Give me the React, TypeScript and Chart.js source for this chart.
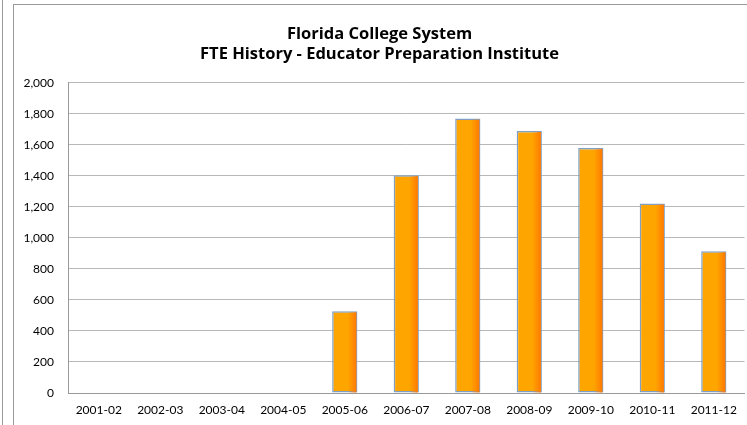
import React, { useEffect, useRef } from "react";
import { Chart, registerables } from "chart.js";

Chart.register(...registerables);

const categories = ["2001-02", "2002-03", "2003-04", "2004-05", "2005-06", "2006-07", "2007-08", "2008-09", "2009-10", "2010-11", "2011-12"];
const fteValues: (number | null)[] = [null, null, null, null, 527, 1405, 1770, 1690, 1581, 1222, 914];
const titleLines = ["Florida College System", "FTE History - Educator Preparation Institute"];
const yMin = 0;
const yMax = 2000;
const yStep = 200;

const FONT = "Lato, 'Open Sans', sans-serif";
const TITLE_FONT = "'Open Sans', Lato, sans-serif";

const shadePlugin = {
  id: "barShade",
  afterDatasetsDraw(chart: any) {
    const ctx = chart.ctx;
    const meta = chart.getDatasetMeta(0);
    meta.data.forEach((bar: any) => {
      const p = bar.getProps(["x", "y", "base", "width"], true);
      if (p.y == null || isNaN(p.y) || Math.abs(p.base - p.y) < 1) return;
      const l = p.x - p.width / 2 + 1;
      const r = p.x + p.width / 2 - 1;
      const g = ctx.createLinearGradient(l, 0, r, 0);
      g.addColorStop(0, "rgba(255,128,0,0)");
      g.addColorStop(0.62, "rgba(255,128,0,0)");
      g.addColorStop(1, "rgba(255,120,0,1)");
      ctx.save();
      ctx.fillStyle = g;
      ctx.fillRect(l, p.y + 1, r - l, p.base - p.y - 1);
      ctx.restore();
    });
  },
};

export default function App() {
  const ref = useRef<HTMLCanvasElement>(null);
  useEffect(() => {
    if (!ref.current) return;
    const chart = new Chart(ref.current, {
      type: "bar",
      data: {
        labels: categories,
        datasets: [
          {
            data: fteValues,
            backgroundColor: (c: any) => {
              const el = c.element;
              const ch = c.chart;
              if (!el || !ch.chartArea) return "#FFA500";
              const p = el.getProps(["y", "base"], true);
              if (p.y == null || isNaN(p.y) || p.base - p.y < 1) return "#FFA500";
              const g = ch.ctx.createLinearGradient(0, p.y, 0, p.base);
              g.addColorStop(0, "#FF8200");
              g.addColorStop(0.45, "#FF9E00");
              g.addColorStop(1, "#FFC600");
              return g;
            },
            borderColor: "#7FA0C4",
            borderWidth: 1.5,
            borderSkipped: false,
            categoryPercentage: 1,
            barPercentage: 0.41,
          },
        ],
      },
      options: {
        animation: false,
        responsive: false,
        maintainAspectRatio: false,
        layout: { padding: { left: 0, right: 2, top: 0, bottom: 0 } },
        plugins: {
          legend: { display: false },
          tooltip: { enabled: false },
          title: {
            display: true,
            text: titleLines,
            color: "#000",
            font: { family: TITLE_FONT, size: 16.5, weight: "bold", lineHeight: 1.21 },
            padding: { top: 19, bottom: 19 },
          },
        },
        scales: {
          x: {
            grid: { display: false, drawTicks: false },
            border: { display: true, color: "#9a9a9a", width: 1 },
            ticks: { color: "#000", font: { family: FONT, size: 12 }, padding: 10, maxRotation: 0, autoSkip: false },
            afterFit: (s: any) => { s.height = 32; },
          },
          y: {
            min: yMin,
            max: yMax,
            grid: { color: "#b8b8b8", lineWidth: 1, drawTicks: false },
            border: { display: true, color: "#9a9a9a", width: 1 },
            ticks: {
              stepSize: yStep,
              color: "#000",
              font: { family: FONT, size: 12 },
              padding: 14,
              callback: (v: any) => Number(v).toLocaleString("en-US"),
            },
            afterFit: (s: any) => { s.width = 54; },
          },
        },
      },
      plugins: [shadePlugin],
    } as any);
    return () => chart.destroy();
  }, []);

  return (
    <div style={{ position: "fixed", left: 0, top: 0, width: 747, height: 425, overflow: "hidden", background: "#fff" }}>
      <div style={{ position: "absolute", left: 2, top: 0, width: 1, height: 425, background: "#9a9a9a" }} />
      <div style={{ position: "absolute", left: 13, top: 4, width: 760, height: 440, border: "1px solid #9a9a9a", boxSizing: "border-box" }} />
      <canvas ref={ref} width={733} height={420} style={{ position: "absolute", left: 14, top: 5, width: 733, height: 420 }} />
    </div>
  );
}
